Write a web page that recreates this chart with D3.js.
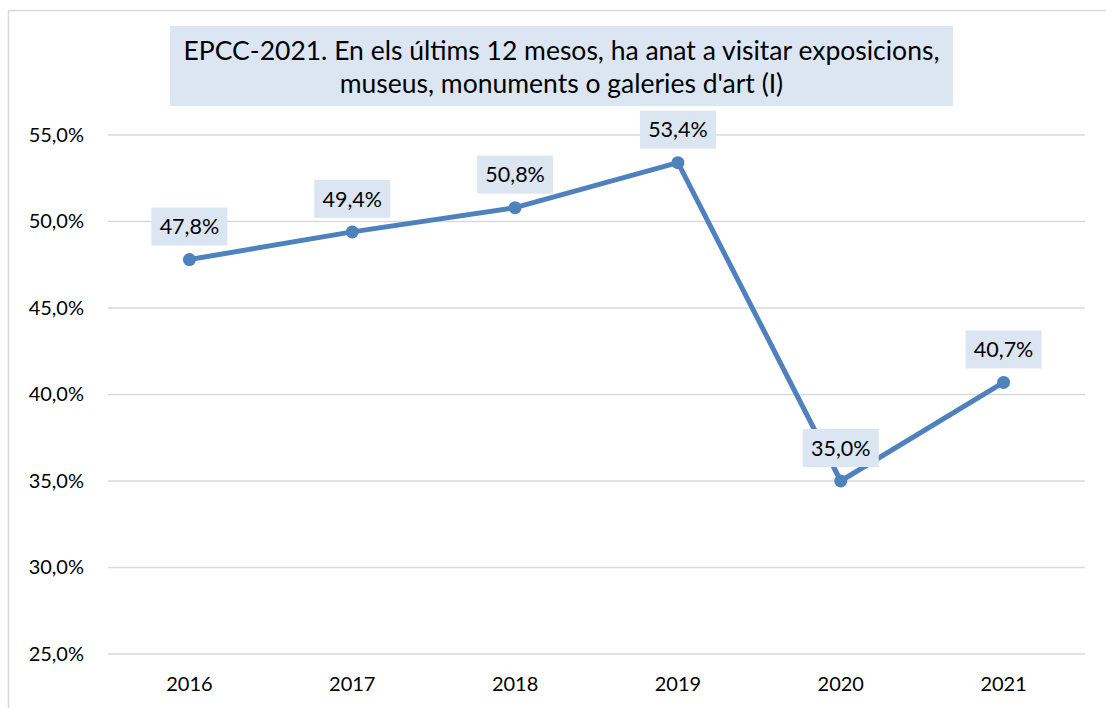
<!DOCTYPE html>
<html>
<head>
<meta charset="utf-8">
<script src="https://cdn.jsdelivr.net/npm/d3@7"></script>
<style>
  html, body { margin: 0; padding: 0; background: #fff; }
  svg { display: block; font-family: Lato, "Open Sans", sans-serif; }
</style>
</head>
<body>
<svg id="chart" width="1106" height="708"></svg>
<script>
const years = ['2016', '2017', '2018', '2019', '2020', '2021'];
const values = [47.8, 49.4, 50.8, 53.4, 35.0, 40.7];
const yTicks = [25, 30, 35, 40, 45, 50, 55];
const titleLines = [
  "EPCC-2021. En els últims 12 mesos, ha anat a visitar exposicions,",
  "museus, monuments o galeries d'art (I)"
];

const svg = d3.select('#chart');
const margin = { left: 108, right: 21, top: 135, bottom: 54 };
const width = +svg.attr('width');
const height = +svg.attr('height');

const fmt = v => d3.format('.1f')(v).replace('.', ',') + '%';

// chart area border (cropped on right/bottom)
svg.append('rect')
  .attr('x', 8.5).attr('y', 10.5)
  .attr('width', 1200).attr('height', 800)
  .attr('fill', 'none')
  .attr('stroke', '#d9d9d9')
  .attr('stroke-width', 1.5);

const x = d3.scaleBand()
  .domain(years)
  .range([margin.left, width - margin.right]);

const y = d3.scaleLinear()
  .domain([25, 55])
  .range([height - margin.bottom, margin.top]);

// gridlines
svg.append('g')
  .selectAll('line')
  .data(yTicks)
  .enter().append('line')
  .attr('x1', margin.left)
  .attr('x2', width - margin.right)
  .attr('y1', d => y(d))
  .attr('y2', d => y(d))
  .attr('stroke', '#d9d9d9')
  .attr('stroke-width', 1.5);

// y axis labels
const yAxis = svg.append('g')
  .attr('transform', `translate(${margin.left},0)`)
  .call(d3.axisLeft(y).tickValues(yTicks).tickFormat(fmt).tickSize(0).tickPadding(24));
yAxis.select('.domain').remove();
yAxis.selectAll('text')
  .attr('font-family', 'Lato, "Open Sans", sans-serif')
  .attr('font-size', 20)
  .attr('fill', '#000');

// x axis labels
const xAxis = svg.append('g')
  .attr('transform', `translate(0,${height - margin.bottom})`)
  .call(d3.axisBottom(x).tickSize(0).tickPadding(23));
xAxis.select('.domain').remove();
xAxis.selectAll('text')
  .attr('font-family', 'Lato, "Open Sans", sans-serif')
  .attr('font-size', 20)
  .attr('fill', '#000');

const cx = d => x(d) + x.bandwidth() / 2;
const pts = years.map((yr, i) => ({ yr, v: values[i] }));

// line
svg.append('path')
  .datum(pts)
  .attr('fill', 'none')
  .attr('stroke', '#4f81bd')
  .attr('stroke-width', 5)
  .attr('stroke-linejoin', 'round')
  .attr('d', d3.line().x(d => cx(d.yr)).y(d => y(d.v)));

// markers
svg.append('g')
  .selectAll('circle')
  .data(pts)
  .enter().append('circle')
  .attr('cx', d => cx(d.yr))
  .attr('cy', d => y(d.v))
  .attr('r', 6.5)
  .attr('fill', '#4f81bd');

// data labels
const lab = svg.append('g')
  .selectAll('g')
  .data(pts)
  .enter().append('g')
  .attr('transform', d => `translate(${cx(d.yr)},${y(d.v) - 33})`);
lab.append('rect')
  .attr('x', -38).attr('y', -19)
  .attr('width', 76).attr('height', 38)
  .attr('fill', '#dce6f2');
lab.append('text')
  .attr('text-anchor', 'middle')
  .attr('dy', '0.36em')
  .attr('font-size', 21.5)
  .attr('fill', '#000')
  .text(d => fmt(d.v));

// title
svg.append('rect')
  .attr('x', 170).attr('y', 26)
  .attr('width', 783).attr('height', 80)
  .attr('fill', '#dce6f2');
svg.append('g')
  .selectAll('text')
  .data(titleLines)
  .enter().append('text')
  .attr('x', 561.5)
  .attr('y', (d, i) => 60 + i * 33)
  .attr('text-anchor', 'middle')
  .attr('font-size', 26.5)
  .attr('fill', '#000')
  .text(d => d);
</script>
</body>
</html>
